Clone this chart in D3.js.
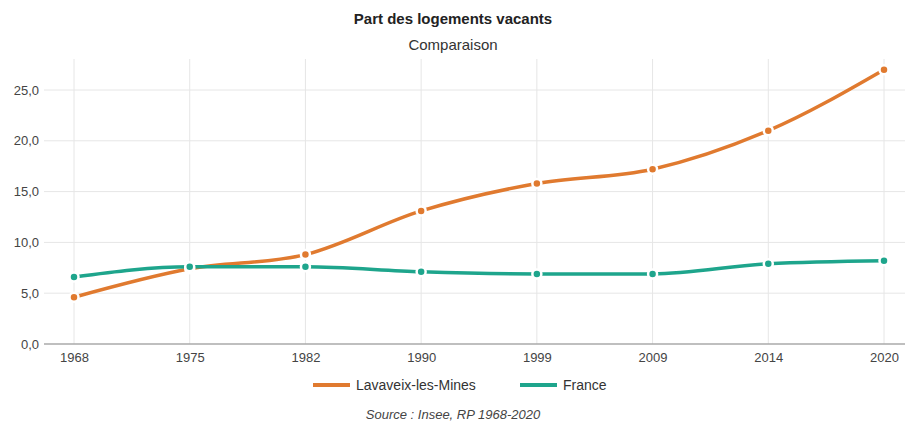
<!DOCTYPE html>
<html>
<head>
<meta charset="utf-8">
<script src="https://cdn.jsdelivr.net/npm/d3@7"></script>
<style>
  body { margin: 0; background: #fff; }
  svg { font-family: "Liberation Sans", Arial, sans-serif; }
</style>
</head>
<body>
<div id="chart"></div>
<script>
const width = 906;
const height = 426;

const years = ["1968", "1975", "1982", "1990", "1999", "2009", "2014", "2020"];
const lavaveix = [4.6, 7.4, 8.8, 13.1, 15.8, 17.2, 21.0, 27.0];
const france = [6.6, 7.6, 7.6, 7.1, 6.9, 6.9, 7.9, 8.2];
const yTicks = [0, 5, 10, 15, 20, 25];

const series = [
  { name: "Lavaveix-les-Mines", values: lavaveix, color: "#e07a2f" },
  { name: "France", values: france, color: "#1ea58c" }
];

const plotLeft = 44, plotRight = 905, plotTop = 59, plotBottom = 344;

let svg = d3.select("#chart")
  .append("svg")
  .attr("width", width)
  .attr("height", height);

const x = d3.scalePoint().domain(years).range([74, 884]);
const y = d3.scaleLinear().domain([0, 25]).range([plotBottom, 90]);

// titres
svg.append("text")
  .attr("x", width / 2).attr("y", 24)
  .attr("text-anchor", "middle")
  .attr("font-size", 15).attr("font-weight", "bold").attr("fill", "#222")
  .text("Part des logements vacants");
svg.append("text")
  .attr("x", width / 2).attr("y", 50)
  .attr("text-anchor", "middle")
  .attr("font-size", 15).attr("fill", "#333")
  .text("Comparaison");

// grille
let grid = svg.append("g");
grid.selectAll(".hg")
  .data(yTicks.slice(1))
  .enter().append("line")
  .attr("x1", plotLeft).attr("x2", plotRight)
  .attr("y1", d => y(d)).attr("y2", d => y(d))
  .attr("stroke", "#e6e6e6");
grid.selectAll(".vg")
  .data(years)
  .enter().append("line")
  .attr("x1", d => x(d)).attr("x2", d => x(d))
  .attr("y1", plotTop).attr("y2", plotBottom)
  .attr("stroke", "#e6e6e6");

// axes
const fmt = d => d3.format(".1f")(d).replace(".", ",");
let yAxis = svg.append("g")
  .attr("transform", "translate(" + plotLeft + ",0)")
  .call(d3.axisLeft(y).tickValues(yTicks).tickFormat(fmt).tickSize(0).tickPadding(5));
yAxis.select(".domain").remove();
yAxis.selectAll("text").attr("font-size", 13).attr("fill", "#444")
  .attr("font-family", "Liberation Sans, Arial, sans-serif");

let xAxis = svg.append("g")
  .attr("transform", "translate(0," + plotBottom + ")")
  .call(d3.axisBottom(x).tickSize(0).tickPadding(9));
xAxis.select(".domain").remove();
xAxis.selectAll("text").attr("font-size", 13).attr("fill", "#444")
  .attr("font-family", "Liberation Sans, Arial, sans-serif");
svg.append("line")
  .attr("x1", plotLeft).attr("x2", plotRight)
  .attr("y1", plotBottom).attr("y2", plotBottom)
  .attr("stroke", "#aaa").attr("stroke-width", 1.5);

// courbes
const line = d3.line()
  .x((d, i) => x(years[i]))
  .y(d => y(d))
  .curve(d3.curveMonotoneX);

series.forEach(s => {
  svg.append("path")
    .datum(s.values)
    .attr("d", line)
    .attr("fill", "none")
    .attr("stroke", s.color)
    .attr("stroke-width", 3.5);
});
series.forEach(s => {
  svg.append("g").selectAll("circle")
    .data(s.values)
    .enter().append("circle")
    .attr("cx", (d, i) => x(years[i]))
    .attr("cy", d => y(d))
    .attr("r", 4.5)
    .attr("fill", s.color)
    .attr("stroke", "#fff")
    .attr("stroke-width", 2.5);
});

// légende
const legendX = [313, 520];
series.forEach((s, i) => {
  svg.append("line")
    .attr("x1", legendX[i]).attr("x2", legendX[i] + 37)
    .attr("y1", 385).attr("y2", 385)
    .attr("stroke", s.color).attr("stroke-width", 4);
  svg.append("text")
    .attr("x", legendX[i] + 43).attr("y", 390)
    .attr("font-size", 14).attr("fill", "#333")
    .text(s.name);
});

svg.append("text")
  .attr("x", width / 2).attr("y", 419)
  .attr("text-anchor", "middle")
  .attr("font-size", 13).attr("font-style", "italic").attr("fill", "#444")
  .text("Source : Insee, RP 1968-2020");
</script>
</body>
</html>
